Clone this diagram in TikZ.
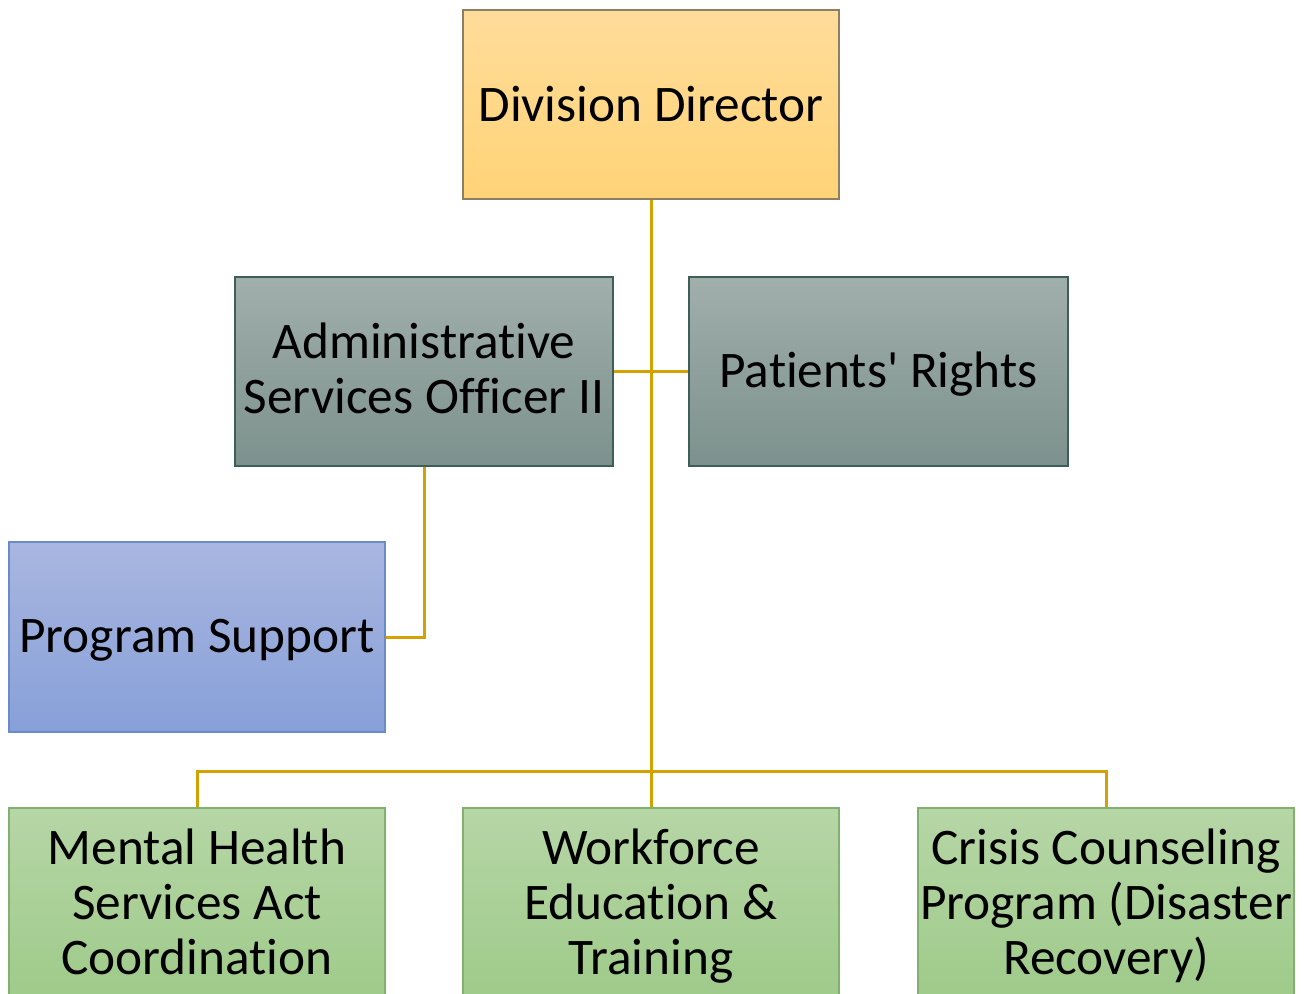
\documentclass[tikz,border=0pt]{standalone}
\usepackage{fontspec}
\setmainfont{Carlito}[Ligatures={TeXOff,CommonOff}]
\newcommand\topstrut[1]{\rule{0pt}{#1}}
\definecolor{conn}{HTML}{D4A200}
\definecolor{orTop}{HTML}{FFDC9A}
\definecolor{orBot}{HTML}{FFD377}
\definecolor{orEdge}{HTML}{8C7F66}
\definecolor{grTop}{HTML}{A1AFAB}
\definecolor{grBot}{HTML}{7C918D}
\definecolor{grEdge}{HTML}{3E5E5A}
\definecolor{blTop}{HTML}{A9B6E0}
\definecolor{blBot}{HTML}{87A0D8}
\definecolor{blEdge}{HTML}{6A8AC8}
\definecolor{gnTop}{HTML}{B6D6A6}
\definecolor{gnBot}{HTML}{9ECA89}
\definecolor{gnEdge}{HTML}{82B070}
\tikzset{
  box/.style={draw, line width=1.5pt, inner sep=0pt, align=center,
    font=\fontsize{51.3}{55}\selectfont, text=black},
  orbox/.style={box, draw=orEdge, top color=orTop, bottom color=orBot},
  grbox/.style={box, draw=grEdge, top color=grTop, bottom color=grBot},
  blbox/.style={box, draw=blEdge, top color=blTop, bottom color=blBot},
  gnbox/.style={box, draw=gnEdge, top color=gnTop, bottom color=gnBot},
  link/.style={draw=conn, line width=3pt}
}
\begin{document}
\begin{tikzpicture}[x=1pt,y=-1pt]
\useasboundingbox (0,0) rectangle (1305,993);
\begin{scope}
\clip (0,0) rectangle (1305,993);
\coordinate (bus) at (651,771);
\node[orbox, minimum width=376pt, minimum height=189pt] (dir) at (651,104.5) {Division Director};
\node[grbox, minimum width=378pt, minimum height=189pt] (aso) at (424,371.5) {\topstrut{46pt}Administrative\\Services Officer II\strut};
\node[grbox, minimum width=379pt, minimum height=189pt] (pr) at (878.5,371.5) {\topstrut{40pt}Patients' Rights};
\node[blbox, minimum width=376pt, minimum height=190pt] (ps) at (197,637) {\topstrut{40pt}Program Support};
\node[gnbox, minimum width=376pt, minimum height=196pt] (mh) at (197,906) {\topstrut{43.5pt}Mental Health\\Services Act\\Coordination\strut};
\node[gnbox, minimum width=376pt, minimum height=196pt] (wf) at (651,906) {\topstrut{43.5pt}Workforce\\Education \&\\Training\strut};
\node[gnbox, minimum width=376pt, minimum height=196pt] (cc) at (1106,906) {\topstrut{43.5pt}Crisis Counseling\\Program (Disaster\\Recovery)\strut};
\draw[link] (dir.south) -- (wf.north);
\draw[link] (aso.east) -- (pr.west);
\draw[link] (aso.south) |- (ps.east);
\draw[link] (mh.north) |- (bus) -| (cc.north);
\end{scope}
\end{tikzpicture}
\end{document}
